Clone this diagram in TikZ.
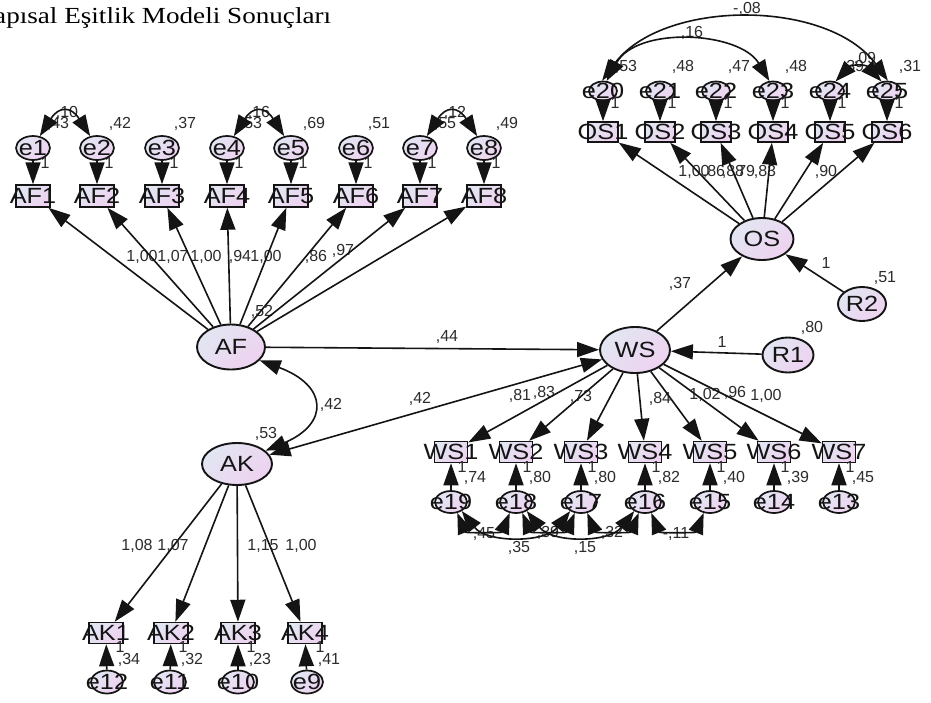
\documentclass[tikz,border=0pt]{standalone}
\usepackage{fontspec}
\setmainfont{Liberation Sans}
\newfontfamily\titlefont[FakeStretch=1.18]{Liberation Serif}
\newfontfamily\nodefont[FakeStretch=1.15]{Liberation Sans}
\usetikzlibrary{shapes.geometric,arrows.meta}
\definecolor{fillA}{RGB}{226,230,242}
\definecolor{fillB}{RGB}{238,210,240}
\definecolor{ink}{RGB}{20,20,20}
\tikzset{
  shadefill/.style={top color=fillA, bottom color=fillB, shading angle=45},
  txt/.style={label={[font=\nodefont\fontsize{22}{22}\selectfont, text=ink, inner sep=0]center:#1}},
  obs/.style={rectangle, draw=ink, line width=1.5pt, shadefill, inner sep=0,
              minimum width=34pt, minimum height=22pt},
  obsO/.style={obs, minimum width=30pt, minimum height=20pt},
  lat/.style={ellipse, draw=ink, line width=1.9pt, shadefill, inner sep=0},
  errA/.style={lat, line width=1.7pt, minimum width=34pt, minimum height=24pt},
  errO/.style={lat, line width=1.7pt, minimum width=28pt, minimum height=19pt},
  errW/.style={lat, line width=1.7pt, minimum width=32pt, minimum height=22pt},
  num/.style={font=\fontsize{16}{16}\selectfont, text=ink!90, inner sep=0},
  onearrow/.style={draw=ink, line width=1.6pt, -{Triangle[length=22pt,width=15pt]}},
  twoarrow/.style={draw=ink, line width=1.6pt,
                   {Triangle[length=21pt,width=15pt]}-{Triangle[length=21pt,width=15pt]}},
}
\begin{document}
\begin{tikzpicture}[x=1pt,y=-1pt]
\useasboundingbox (0,0) rectangle (931,702);
\fill[white] (0,0) rectangle (931,702);
\node[anchor=base west, inner sep=0, font=\titlefont\fontsize{23}{23}\selectfont] (title) at (-6,23) {apısal Eşitlik Modeli Sonuçları};

% ---------- AF measurement block ----------
\foreach \i/\x in {1/33,2/97,3/162,4/227,5/291,6/356,7/420,8/484} {
  \node[errA, txt=e\i] (e\i) at (\x,148) {};
  \node[obs, txt=AF\i] (AF\i) at (\x,196) {};
}
% ---------- OS measurement block ----------
\foreach \i/\x in {1/603,2/660,3/716,4/773,5/830,6/887} {
  \pgfmathtruncatemacro\j{19+\i}
  \node[errO, txt=e\j] (e\j) at (\x,91) {};
  \node[obsO, txt=OS\i] (OS\i) at (\x,132) {};
}
% ---------- WS measurement block ----------
\foreach \i/\x in {1/451,2/516,3/581,4/645,5/710,6/774,7/839} {
  \pgfmathtruncatemacro\j{20-\i}
  \node[obs, minimum width=33pt, minimum height=21pt, txt=WS\i] (WS\i) at (\x,452) {};
  \node[errW, txt=e\j] (e\j) at (\x,502) {};
}
% ---------- AK measurement block ----------
\foreach \i/\x/\y in {1/106/107,2/171/170,3/238/238,4/305/307} {
  \pgfmathtruncatemacro\j{13-\i}
  \node[obs, minimum width=34pt, minimum height=21pt, txt=AK\i] (AK\i) at (\x,633) {};
  \node[errW, minimum height=23pt, txt=e\j] (e\j) at (\y,682) {};
}
% ---------- latent variables and residuals ----------
\node[lat, minimum width=68pt, minimum height=45pt, txt=AF] (AF) at (231,347) {};
\node[lat, minimum width=70pt, minimum height=42pt, txt=AK] (AK) at (237,464) {};
\node[lat, minimum width=70pt, minimum height=46pt, txt=WS] (WS) at (635,350) {};
\node[lat, minimum width=63pt, minimum height=42pt, txt=OS] (OS) at (762,239) {};
\node[lat, minimum width=51pt, minimum height=35pt, txt=R1] (R1) at (788,355) {};
\node[lat, minimum width=48pt, minimum height=34pt, txt=R2] (R2) at (862,304) {};

% ---------- estimates ----------
\foreach \x/\t [count=\k] in {58/{,43},120/{,42},185/{,37},251/{,53},314/{,69},379/{,51},445/{,55},507/{,49}}
  \node[num] (afv\k) at (\x,124) {\t};
\foreach \x [count=\k] in {45,109,174,239,303,368,432,496}
  \node[num] (afo\k) at (\x,163) {1};
\node[num] (afc1) at (67,113) {,10};
\node[num] (afc2) at (259,113) {,16};
\node[num] (afc3) at (455,113) {,12};
\foreach \x/\t [count=\k] in {142/{1,00},173/{1,07},206/{1,00},240/{,94},266/{1,00},316/{,86}}
  \node[num] (afl\k) at (\x,257) {\t};
\node[num] (afl7) at (343,251) {,97};

\foreach \x/\t [count=\k] in {626/{,53},683/{,48},739/{,47},796/{,48},853/{,39},910/{,31}}
  \node[num] (osv\k) at (\x,67) {\t};
\foreach \x [count=\k] in {615,672,728,785,842,899}
  \node[num] (oso\k) at (\x,103) {1};
\node[num] (osc1) at (692,33) {,16};
\node[num] (osc2) at (747,9) {-,08};
\node[num] (osc3) at (865,59) {,09};
\foreach \x/\t [count=\k] in {694/{1,00},714/{,86},733/{,88},744/{,79},765/{,83},826/{,90}}
  \node[num] (osl\k) at (\x,172) {\t};

\foreach \x/\y/\t [count=\k] in {520/396/{,81},544/393/{,83},581/397/{,73},660/399/{,84},705/395/{1,02},735/393/{,96},766/396/{1,00}}
  \node[num] (wsl\k) at (\x,\y) {\t};
\foreach \x/\t [count=\k] in {451/{,74},516/{,80},581/{,80},645/{,82},710/{,40},774/{,39},839/{,45}} {
  \node[num] (wso\k) at (\x+11,467) {1};
  \node[num] (wsv\k) at (\x+24,478) {\t};
}
\foreach \x/\y/\t [count=\k] in {484/534/{,45},519/548/{,35},548/533/{,39},585/548/{,15},612/533/{,32},676/534/{-,11}}
  \node[num] (wsc\k) at (\x,\y) {\t};

\foreach \x/\t [count=\k] in {137/{1,08},173/{1,07},263/{1,15},301/{1,00}}
  \node[num] (akl\k) at (\x,546) {\t};
\foreach \x/\t [count=\k] in {107/{,34},170/{,32},238/{,23},307/{,41}} {
  \node[num] (ako\k) at (\x+13,647) {1};
  \node[num] (akv\k) at (\x+22,660) {\t};
}

\node[num] (vAF) at (262,312) {,52};
\node[num] (vAK) at (266,434) {,53};
\node[num] (cAFAK) at (331,405) {,42};
\node[num] (cAKWS) at (420,399) {,42};
\node[num] (pAFWS) at (447,337) {,44};
\node[num] (pWSOS) at (680,284) {,37};
\node[num] (fR2) at (826,263) {1};
\node[num] (vR2) at (885,278) {,51};
\node[num] (fR1) at (722,342) {1};
\node[num] (vR1) at (812,328) {,80};

% ---------- loadings and error paths ----------
\foreach \i in {1,...,8} {
  \draw[onearrow] (e\i) -- (AF\i);
  \draw[onearrow] (AF) -- (AF\i);
}
\foreach \i in {1,...,6} {
  \pgfmathtruncatemacro\j{19+\i}
  \draw[onearrow] (e\j) -- (OS\i);
  \draw[onearrow] (OS) -- (OS\i);
}
\foreach \i in {1,...,7} {
  \pgfmathtruncatemacro\j{20-\i}
  \draw[onearrow] (e\j) -- (WS\i);
  \draw[onearrow] (WS) -- (WS\i);
}
\foreach \i in {1,...,4} {
  \pgfmathtruncatemacro\j{13-\i}
  \draw[onearrow] (e\j) -- (AK\i);
  \draw[onearrow] (AK) -- (AK\i);
}

% ---------- structural paths ----------
\draw[onearrow] (AF) -- (WS);
\draw[twoarrow] (WS) -- (AK);
\draw[onearrow] (WS) -- (OS);
\draw[onearrow] (R1) -- (WS);
\draw[onearrow] (R2) -- (OS);
\draw[twoarrow] (AF.-25) .. controls +(68,25) and +(64,-27) .. (AK.25);

% ---------- error covariances ----------
\draw[twoarrow] (e1.60) .. controls +(19,-30) and +(-19,-30) .. (e2.120);
\draw[twoarrow] (e4.60) .. controls +(19,-30) and +(-19,-30) .. (e5.120);
\draw[twoarrow] (e7.60) .. controls +(19,-30) and +(-19,-30) .. (e8.120);
\draw[twoarrow] (e20.70) .. controls +(30,-55) and +(-30,-50) .. (e23.110);
\draw[twoarrow] (e20.95) .. controls +(60,-82) and +(-60,-82) .. (e25.85);
\draw[twoarrow] (e24.60) .. controls +(16,-17) and +(-16,-17) .. (e25.120);
\draw[twoarrow] (e19.-60) .. controls +(8,20) and +(-8,20) .. (e18.-120);
\draw[twoarrow] (e18.-60) .. controls +(8,20) and +(-8,20) .. (e17.-120);
\draw[twoarrow] (e17.-60) .. controls +(8,20) and +(-8,20) .. (e16.-120);
\draw[twoarrow] (e16.-60) .. controls +(8,20) and +(-8,20) .. (e15.-120);
\draw[twoarrow] (e19.-40) .. controls +(25,32) and +(-25,32) .. (e17.-140);
\draw[twoarrow] (e18.-40) .. controls +(25,32) and +(-25,32) .. (e16.-140);
\end{tikzpicture}
\end{document}
